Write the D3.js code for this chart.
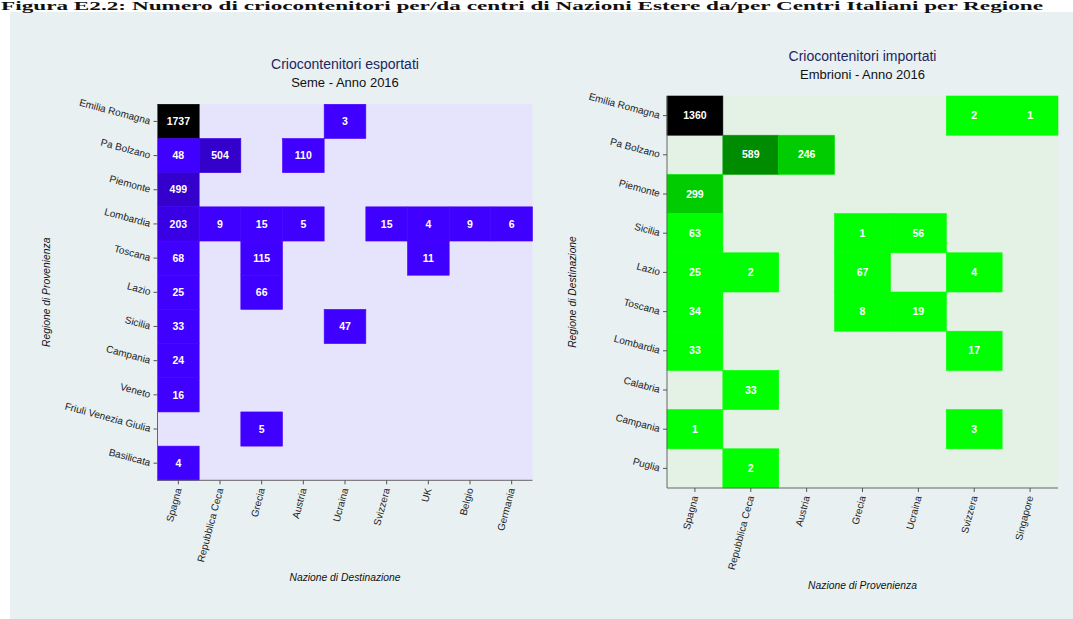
<!DOCTYPE html>
<html><head><meta charset="utf-8">
<script src="https://cdn.jsdelivr.net/npm/d3@7"></script>
<style>
html,body{margin:0;padding:0;background:#fff;}
svg{display:block;font-family:"Liberation Sans",Arial,sans-serif;}
</style></head>
<body>
<svg id="chart" width="1073" height="619"></svg>
<script>
// ---------- DATA ----------
const figureTitle = "Figura E2.2: Numero di criocontenitori per/da centri di Nazioni Estere da/per Centri Italiani per Regione";

const leftTitle = "Criocontenitori esportati";
const leftSubtitle = "Seme - Anno 2016";
const leftCols = ["Spagna","Repubblica Ceca","Grecia","Austria","Ucraina","Svizzera","UK","Belgio","Germania"];
const leftRows = ["Emilia Romagna","Pa Bolzano","Piemonte","Lombardia","Toscana","Lazio","Sicilia","Campania","Veneto","Friuli Venezia Giulia","Basilicata"];
const leftCells = [
  ["Emilia Romagna","Spagna",1737],["Emilia Romagna","Ucraina",3],
  ["Pa Bolzano","Spagna",48],["Pa Bolzano","Repubblica Ceca",504],["Pa Bolzano","Austria",110],
  ["Piemonte","Spagna",499],
  ["Lombardia","Spagna",203],["Lombardia","Repubblica Ceca",9],["Lombardia","Grecia",15],["Lombardia","Austria",5],
  ["Lombardia","Svizzera",15],["Lombardia","UK",4],["Lombardia","Belgio",9],["Lombardia","Germania",6],
  ["Toscana","Spagna",68],["Toscana","Grecia",115],["Toscana","UK",11],
  ["Lazio","Spagna",25],["Lazio","Grecia",66],
  ["Sicilia","Spagna",33],["Sicilia","Ucraina",47],
  ["Campania","Spagna",24],
  ["Veneto","Spagna",16],
  ["Friuli Venezia Giulia","Grecia",5],
  ["Basilicata","Spagna",4]
];
const leftXTitle = "Nazione di Destinazione";
const leftYTitle = "Regione di Provenienza";
const leftThresholds = [150, 300, 1000];
const leftColors = ["#4000ff","#3900e6","#3300cc","#000000"];

const rightTitle = "Criocontenitori importati";
const rightSubtitle = "Embrioni - Anno 2016";
const rightCols = ["Spagna","Repubblica Ceca","Austria","Grecia","Ucraina","Svizzera","Singapore"];
const rightRows = ["Emilia Romagna","Pa Bolzano","Piemonte","Sicilia","Lazio","Toscana","Lombardia","Calabria","Campania","Puglia"];
const rightCells = [
  ["Emilia Romagna","Spagna",1360],["Emilia Romagna","Svizzera",2],["Emilia Romagna","Singapore",1],
  ["Pa Bolzano","Repubblica Ceca",589],["Pa Bolzano","Austria",246],
  ["Piemonte","Spagna",299],
  ["Sicilia","Spagna",63],["Sicilia","Grecia",1],["Sicilia","Ucraina",56],
  ["Lazio","Spagna",25],["Lazio","Repubblica Ceca",2],["Lazio","Grecia",67],["Lazio","Svizzera",4],
  ["Toscana","Spagna",34],["Toscana","Grecia",8],["Toscana","Ucraina",19],
  ["Lombardia","Spagna",33],["Lombardia","Svizzera",17],
  ["Calabria","Repubblica Ceca",33],
  ["Campania","Spagna",1],["Campania","Svizzera",3],
  ["Puglia","Repubblica Ceca",2]
];
const rightXTitle = "Nazione di Provenienza";
const rightYTitle = "Regione di Destinazione";
const rightThresholds = [150, 400, 1000];
const rightColors = ["#00ff00","#00cc00","#008c00","#000000"];

// ---------- DRAW ----------
const svg = d3.select("#chart");

// panel
svg.append("rect").attr("x",10).attr("y",12).attr("width",1063).attr("height",607).attr("fill","#e8f0f2");

// figure title
svg.append("text").attr("x",1).attr("y",10)
  .attr("font-family","'Liberation Serif','Times New Roman',serif").attr("font-weight","bold")
  .attr("font-size",12.5).attr("fill","#111")
  .attr("textLength",1042).attr("lengthAdjust","spacingAndGlyphs")
  .text(figureTitle);

function heatmap(cfg){
  const g = svg.append("g");
  const x = d3.scaleBand().domain(cfg.cols).range([cfg.x0,cfg.x1]);
  const y = d3.scaleBand().domain(cfg.rows).range([cfg.y0,cfg.y1]);
  const color = d3.scaleThreshold().domain(cfg.thresholds).range(cfg.colors);

  g.append("rect").attr("x",cfg.x0).attr("y",cfg.y0)
    .attr("width",cfg.x1-cfg.x0).attr("height",cfg.y1-cfg.y0).attr("fill",cfg.bg);

  const cells = g.selectAll("g.cell").data(cfg.cells).join("g").attr("class","cell");
  cells.append("rect")
    .attr("x",d=>x(d[1])).attr("y",d=>y(d[0]))
    .attr("width",x.bandwidth()).attr("height",y.bandwidth())
    .attr("fill",d=>color(d[2]))
    .attr("stroke",d=>d3.color(color(d[2])).brighter(0.4)).attr("stroke-width",0.6);
  cells.append("text")
    .attr("x",d=>x(d[1])+x.bandwidth()/2).attr("y",d=>y(d[0])+y.bandwidth()/2)
    .attr("dy","0.35em").attr("text-anchor","middle")
    .attr("font-size",10.5).attr("font-weight","bold").attr("fill","#fff")
    .text(d=>d[2]);

  // axes
  const ax = g.append("g").attr("transform",`translate(0,${cfg.y1})`)
    .call(d3.axisBottom(x).tickSize(4).tickSizeOuter(0).tickPadding(6));
  ax.select(".domain").attr("stroke","#666").attr("d",`M${cfg.x0},0H${cfg.x1}`);
  ax.selectAll(".tick line").attr("stroke","#555");
  ax.selectAll(".tick text")
    .attr("font-size",10).attr("fill","#222")
    .attr("text-anchor","end").attr("dy","0.35em")
    .attr("transform","translate(0,8) rotate(-75)").attr("x",0).attr("y",0);

  const ay = g.append("g").attr("transform",`translate(${cfg.x0},0)`)
    .call(d3.axisLeft(y).tickSize(4).tickSizeOuter(0).tickPadding(7));
  ay.select(".domain").attr("stroke","#666").attr("d",`M0,${cfg.y0}V${cfg.y1}`);
  ay.selectAll(".tick line").attr("stroke","#555");
  ay.selectAll(".tick text")
    .attr("font-size",10).attr("fill","#222")
    .attr("x",0).attr("dy",0)
    .attr("transform","translate(-8,3) rotate(15)");

  // titles
  const cx = (cfg.x0+cfg.x1)/2;
  svg.append("text").attr("x",cx).attr("y",cfg.titleY).attr("text-anchor","middle")
    .attr("font-size",14).attr("fill","#1c2660").text(cfg.title);
  svg.append("text").attr("x",cx).attr("y",cfg.titleY+18).attr("text-anchor","middle")
    .attr("font-size",13).attr("fill","#111").text(cfg.subtitle);
  svg.append("text").attr("x",cx).attr("y",cfg.xTitleY).attr("text-anchor","middle")
    .attr("font-size",10.3).attr("font-style","italic").attr("fill","#111").text(cfg.xTitle);
  svg.append("text").attr("transform",`translate(${cfg.yTitleX},${(cfg.y0+cfg.y1)/2}) rotate(-90)`)
    .attr("text-anchor","middle")
    .attr("font-size",10.3).attr("font-style","italic").attr("fill","#111").text(cfg.yTitle);
}

heatmap({cols:leftCols, rows:leftRows, cells:leftCells, thresholds:leftThresholds, colors:leftColors,
  x0:157.5, x1:532.5, y0:104.3, y1:480.3, bg:"#e6e3fc",
  title:leftTitle, subtitle:leftSubtitle, titleY:69, xTitle:leftXTitle, xTitleY:581, yTitle:leftYTitle, yTitleX:50});

heatmap({cols:rightCols, rows:rightRows, cells:rightCells, thresholds:rightThresholds, colors:rightColors,
  x0:667, x1:1058, y0:96, y1:488, bg:"#e3f2e5",
  title:rightTitle, subtitle:rightSubtitle, titleY:61, xTitle:rightXTitle, xTitleY:589, yTitle:rightYTitle, yTitleX:576});
</script>
</body></html>
